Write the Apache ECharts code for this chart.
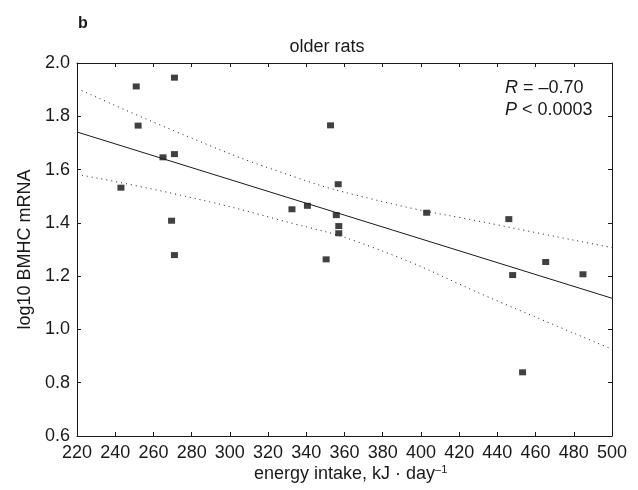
<!DOCTYPE html>
<html>
<head>
<meta charset="utf-8">
<script src="https://cdn.jsdelivr.net/npm/echarts@6/dist/echarts.min.js"></script>
<style>
  html, body { margin: 0; padding: 0; background: #fff; }
  #chart { width: 638px; height: 490px; }
</style>
</head>
<body>
<div id="chart"></div>
<script>
// measured points: energy intake vs log10 BMHC mRNA
const energy = [243, 251, 252, 265, 271, 271, 269.5, 271, 332.5, 340.6, 350.4, 352.7, 356.7, 355.7, 357, 357, 403, 446, 448, 453.2, 465.3, 484.8]
const bmhc = [1.532, 1.912, 1.765, 1.646, 1.945, 1.658, 1.408, 1.279, 1.451, 1.464, 1.263, 1.766, 1.545, 1.429, 1.388, 1.361, 1.438, 1.414, 1.204, 0.839, 1.253, 1.207]

// regression line and confidence band
const fitX = [220, 500]
const fitY = [1.741, 1.117]
const bandX = [220, 274, 326, 374, 441, 500]
const bandUpper = [1.905, 1.736, 1.592, 1.490, 1.391, 1.307]
const bandLower = [1.582, 1.504, 1.411, 1.310, 1.104, 0.926]

const pairs = (xs, ys) => xs.map((x, i) => [x, ys[i]])

const font = "'Liberation Sans', Arial, sans-serif"
const ink = '#1a1a1a'

const chart = echarts.init(document.getElementById('chart'), null, { renderer: 'canvas' })

const baseX = {
  type: 'value', min: 220, max: 500, interval: 20,
  axisLine: { show: true, lineStyle: { color: ink, width: 1 } },
  axisTick: { show: true, inside: true, length: 4, lineStyle: { color: ink } },
  splitLine: { show: false }
}
const baseY = {
  type: 'value', min: 0.6, max: 2.0, interval: 0.2,
  axisLine: { show: true, lineStyle: { color: ink, width: 1 } },
  axisTick: { show: true, inside: true, length: 4, lineStyle: { color: ink } },
  splitLine: { show: false }
}

const option = {
  animation: false,
  backgroundColor: '#fff',
  textStyle: { fontFamily: font },
  title: [
    { text: 'b', left: 78, top: 16, padding: 0, textStyle: { fontFamily: font, fontSize: 16, fontWeight: 'bold', color: ink } },
    { text: 'older rats', left: 327, top: 38, padding: 0, textAlign: 'center', textStyle: { fontFamily: font, fontSize: 18, fontWeight: 'normal', color: ink } }
  ],
  grid: { left: 77, right: 26, top: 63, bottom: 54 },
  xAxis: [
    Object.assign({}, baseX, {
      position: 'bottom',
      axisLabel: { color: ink, fontSize: 18, margin: 8, fontFamily: font }
    }),
    Object.assign({}, baseX, { position: 'top', axisLabel: { show: false } })
  ],
  yAxis: [
    Object.assign({}, baseY, {
      position: 'left',
      axisLabel: { color: ink, fontSize: 18, margin: 7, fontFamily: font, formatter: v => v.toFixed(1) },
      name: 'log10 BMHC mRNA',
      nameLocation: 'middle',
      nameGap: 42,
      nameTextStyle: { fontFamily: font, fontSize: 18, color: ink }
    }),
    Object.assign({}, baseY, { position: 'right', axisLabel: { show: false } })
  ],
  graphic: [
    {
      type: 'text', left: 505, top: 79,
      style: {
        text: '{i|R} = –0.70',
        rich: { i: { fontStyle: 'italic', fontFamily: font, fontSize: 18, fill: ink } },
        font: '18px ' + font, fill: ink
      }
    },
    {
      type: 'text', left: 505, top: 101,
      style: {
        text: '{i|P} < 0.0003',
        rich: { i: { fontStyle: 'italic', fontFamily: font, fontSize: 18, fill: ink } },
        font: '18px ' + font, fill: ink
      }
    },
    {
      type: 'text', left: 254, top: 464,
      style: {
        text: '{n|energy intake, kJ · day}{s|–1}',
        rich: {
          n: { fontFamily: font, fontSize: 18, fill: ink },
          s: { fontFamily: font, fontSize: 11, fill: ink, verticalAlign: 'top', padding: [0, 0, 9, 0] }
        }
      }
    }
  ],
  series: [
    {
      type: 'line', data: pairs(bandX, bandUpper), smooth: true, symbol: 'none',
      lineStyle: { color: ink, width: 1, type: [1, 4] }, silent: true
    },
    {
      type: 'line', data: pairs(bandX, bandLower), smooth: true, symbol: 'none',
      lineStyle: { color: ink, width: 1, type: [1, 4] }, silent: true
    },
    {
      type: 'line', data: pairs(fitX, fitY), symbol: 'none',
      lineStyle: { color: ink, width: 1 }, silent: true
    },
    {
      type: 'scatter', data: pairs(energy, bmhc),
      symbol: 'rect', symbolSize: [7, 6],
      itemStyle: { color: '#111' }
    }
  ]
}

chart.setOption(option)
</script>
</body>
</html>
